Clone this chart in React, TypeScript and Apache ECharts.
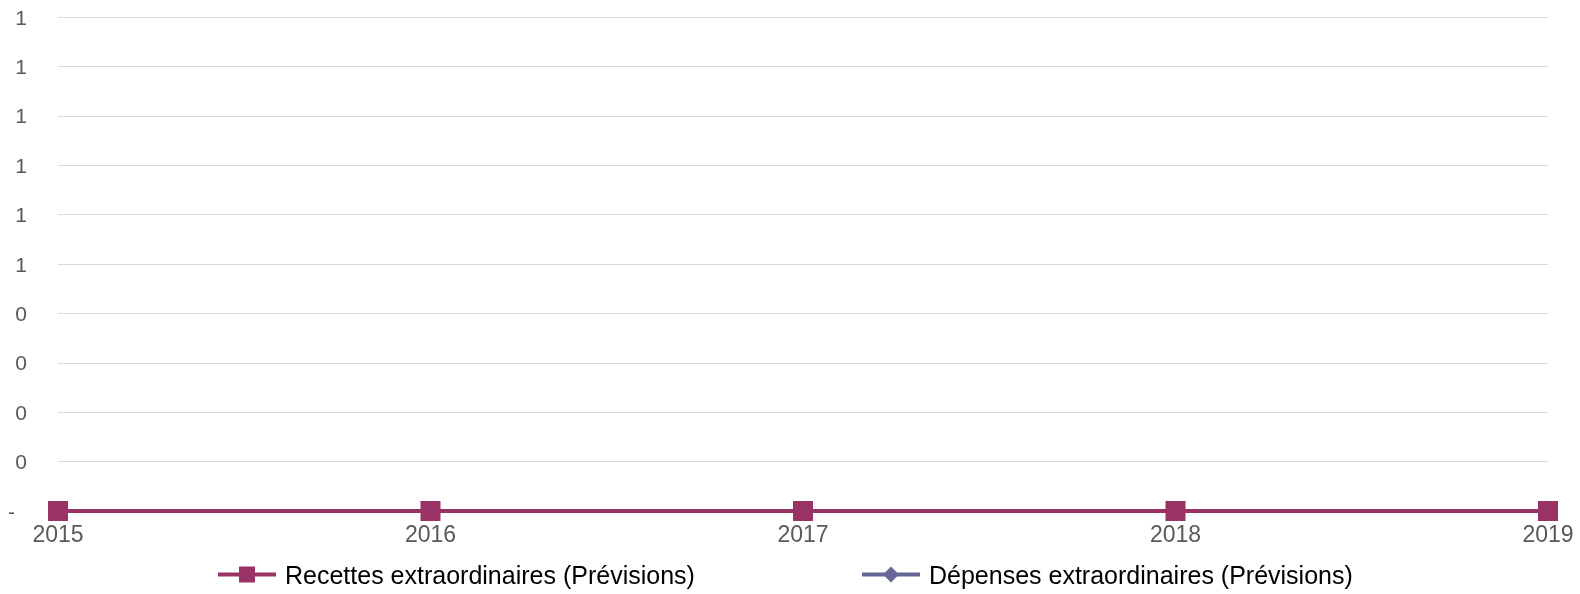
import React, { useEffect, useRef } from "react";
import * as echarts from "echarts";

const categories = ["2015", "2016", "2017", "2018", "2019"];
const recettes = [0, 0, 0, 0, 0];
const depenses = [0, 0, 0, 0, 0];
const seriesNames = [
  "Recettes extraordinaires (Prévisions)",
  "Dépenses extraordinaires (Prévisions)",
];
const yMin = 0;
const yMax = 1;
const yInterval = 0.1;

const FONT = "'Liberation Sans', Arial, sans-serif";

export default function App() {
  const ref = useRef<HTMLDivElement>(null);
  useEffect(() => {
    if (!ref.current) return;
    const chart = echarts.init(ref.current, undefined, { renderer: "svg" });
    const legendText = {
      fontSize: 25,
      color: "#000",
      fontFamily: FONT,
      padding: [0, 0, 0, 4],
    };
    chart.setOption({
      animation: false,
      textStyle: { fontFamily: FONT },
      grid: { left: 58, right: 32, top: 17, bottom: 83, containLabel: false },
      legend: [
        {
          data: [seriesNames[0]],
          left: 216,
          top: 562,
          padding: 0,
          itemWidth: 58,
          itemHeight: 20,
          textStyle: legendText,
          lineStyle: { width: 4 },
        },
        {
          data: [seriesNames[1]],
          left: 860,
          top: 562,
          padding: 0,
          itemWidth: 58,
          itemHeight: 20,
          textStyle: legendText,
          lineStyle: { width: 4 },
        },
      ],
      xAxis: {
        type: "category",
        data: categories,
        boundaryGap: false,
        axisTick: { show: false },
        axisLine: { show: true, lineStyle: { color: "#d9d9d9" } },
        axisLabel: { fontSize: 23, color: "#595959", margin: 11, fontFamily: FONT },
      },
      yAxis: {
        type: "value",
        min: yMin,
        max: yMax,
        interval: yInterval,
        axisLine: { show: false },
        axisTick: { show: false },
        splitLine: { lineStyle: { color: "#d9d9d9", width: 1 } },
        axisLabel: {
          fontSize: 21,
          color: "#595959",
          margin: 31,
          fontFamily: FONT,
          formatter: (v: number) =>
            Math.abs(v) < 1e-9 ? "{d|-}" : String(Math.round(v)),
          rich: {
            d: { fontSize: 21, color: "#595959", padding: [0, 12, 0, 0], fontFamily: FONT },
          },
        },
      },
      series: [
        {
          name: seriesNames[1],
          type: "line",
          data: depenses,
          z: 2,
          symbol: "diamond",
          symbolSize: 16,
          itemStyle: { color: "#666699" },
          lineStyle: { color: "#666699", width: 4 },
        },
        {
          name: seriesNames[0],
          type: "line",
          data: recettes,
          z: 3,
          symbol: "rect",
          symbolSize: 20,
          itemStyle: { color: "#993366" },
          lineStyle: { color: "#993366", width: 4 },
        },
      ],
    });
    return () => chart.dispose();
  }, []);
  return (
    <div
      ref={ref}
      style={{ position: "fixed", left: 0, top: 0, width: 1580, height: 594 }}
    />
  );
}
